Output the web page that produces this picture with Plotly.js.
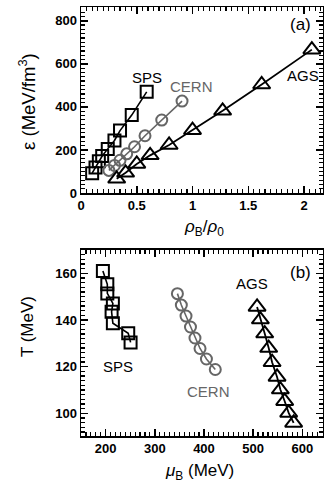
<!DOCTYPE html>
<html>
<head>
<meta charset="utf-8">
<script src="https://cdn.plot.ly/plotly-3.0.1.min.js"></script>
<style>html,body{margin:0;padding:0;background:#fff;}#chart{width:324px;height:489px;}</style>
</head>
<body>
<div id="chart"></div>
<script>
// Panel (a): energy density vs baryon density
const spsRho = [0.10, 0.13, 0.16, 0.19, 0.24, 0.30, 0.35, 0.455, 0.589];
const spsEps = [92, 118, 148, 172, 205, 244, 290, 362, 470];
const cernRho = [0.25, 0.30, 0.35, 0.41, 0.48, 0.574, 0.724, 0.906];
const cernEps = [105, 128, 152, 182, 215, 266, 339, 427];
const agsRho = [0.32, 0.40, 0.50, 0.62, 0.79, 1.0, 1.27, 1.62, 2.07];
const agsEps = [66, 94, 135, 175, 223, 292, 382, 504, 666];

// Panel (b): temperature vs baryon chemical potential
const spsMu = [194.5, 203.5, 203.5, 214.8, 212.2, 214.8, 246, 250.8];
const spsT = [161, 155.3, 151.4, 147.1, 143.5, 138.6, 134.3, 130.4];
const cernMu = [346, 354, 363.5, 372.6, 381.7, 392, 405, 423];
const cernT = [151.3, 146.4, 141.7, 137, 132.3, 127.8, 123.3, 118.8];
const agsMu = [508, 514.7, 523.5, 531.6, 538.5, 548.6, 555.3, 564.1, 572.2, 582.3];
const agsT = [145.6, 140.2, 134.2, 128, 121.9, 115.6, 110.2, 105.2, 100.2, 95.9];

const BLACK = '#000000';
const GRAY = '#666666';
const FONT = 'Liberation Sans, Arial, sans-serif';

function tr(x, y, xa, ya, sym, size, color, lw) {
  return {
    x: x, y: y, xaxis: xa, yaxis: ya, type: 'scatter', mode: 'lines+markers',
    line: {color: color, width: lw},
    marker: {symbol: sym, size: size, color: color, line: {color: color, width: 2}},
    showlegend: false, hoverinfo: 'skip'
  };
}

const data = [
  tr(spsRho, spsEps, 'x', 'y', 'square-open', 12, BLACK, 1.6),
  tr(cernRho, cernEps, 'x', 'y', 'circle-open', 11, GRAY, 1.6),
  tr(agsRho, agsEps, 'x', 'y', 'triangle-up-open', 15, BLACK, 1.8),
  tr(spsMu, spsT, 'x2', 'y2', 'square-open', 12, BLACK, 1.6),
  tr(cernMu, cernT, 'x2', 'y2', 'circle-open', 11, GRAY, 1.6),
  tr(agsMu, agsT, 'x2', 'y2', 'triangle-up-open', 15, BLACK, 1.8)
];

function ax(extra) {
  return Object.assign({
    showgrid: false, zeroline: false, showline: true, linecolor: BLACK, linewidth: 1.5,
    mirror: 'allticks', ticks: 'inside', ticklen: 7, tickwidth: 1.5, tickcolor: BLACK,
    tickmode: 'linear',
    tickfont: {family: FONT, size: 13, color: BLACK, weight: 'bold'},
    fixedrange: true
  }, extra);
}
function minor(d) {
  return {dtick: d, ticks: 'inside', ticklen: 4, tickcolor: BLACK, tickwidth: 1.2};
}

const layout = {
  width: 324, height: 489,
  margin: {l: 81, r: 1, t: 7, b: 53},
  paper_bgcolor: '#ffffff', plot_bgcolor: '#ffffff',
  font: {family: FONT, color: BLACK},
  xaxis: ax({domain: [0, 1], anchor: 'y', range: [0, 2.17], tick0: 0, dtick: 0.5, minor: minor(0.05)}),
  yaxis: ax({domain: [0.5664, 1], anchor: 'x', range: [0, 864], tick0: 0, dtick: 200, minor: minor(20)}),
  xaxis2: ax({domain: [0, 1], anchor: 'y2', range: [150, 642], tick0: 0, dtick: 100, minor: minor(10)}),
  yaxis2: ax({domain: [0, 0.4336], anchor: 'x2', range: [90.3, 170], tick0: 0, dtick: 20, minor: minor(2)}),
  annotations: [
    {text: 'ε (MeV/fm<sup>3</sup>)', xref: 'paper', yref: 'paper', x: -0.221, y: 0.78, textangle: -90,
      showarrow: false, font: {family: FONT, size: 18.5, color: BLACK}, xanchor: 'center', yanchor: 'middle'},
    {text: '<i>ρ</i><sub>B</sub>/<i>ρ</i><sub>0</sub>', xref: 'paper', yref: 'paper', x: 0.51, y: 0.485,
      showarrow: false, font: {family: FONT, size: 17, color: BLACK}, xanchor: 'center', yanchor: 'middle'},
    {text: 'T (MeV)', xref: 'paper', yref: 'paper', x: -0.221, y: 0.255, textangle: -90,
      showarrow: false, font: {family: FONT, size: 17, color: BLACK}, xanchor: 'center', yanchor: 'middle'},
    {text: '<i>μ</i><sub>B</sub> (MeV)', xref: 'paper', yref: 'paper', x: 0.49, y: -0.085,
      showarrow: false, font: {family: FONT, size: 17, color: BLACK}, xanchor: 'center', yanchor: 'middle'},
    {text: '(a)', xref: 'paper', yref: 'paper', x: 0.905, y: 0.959, showarrow: false,
      font: {family: FONT, size: 17, color: BLACK}, xanchor: 'center', yanchor: 'middle'},
    {text: 'SPS', xref: 'paper', yref: 'paper', x: 0.273, y: 0.835, showarrow: false,
      font: {family: FONT, size: 15, color: BLACK}, xanchor: 'center', yanchor: 'middle'},
    {text: 'CERN', xref: 'paper', yref: 'paper', x: 0.456, y: 0.814, showarrow: false,
      font: {family: FONT, size: 15, color: GRAY}, xanchor: 'center', yanchor: 'middle'},
    {text: 'AGS', xref: 'paper', yref: 'paper', x: 0.918, y: 0.840, showarrow: false,
      font: {family: FONT, size: 15, color: BLACK}, xanchor: 'center', yanchor: 'middle'},
    {text: '(b)', xref: 'paper', yref: 'paper', x: 0.905, y: 0.382, showarrow: false,
      font: {family: FONT, size: 17, color: BLACK}, xanchor: 'center', yanchor: 'middle'},
    {text: 'AGS', xref: 'paper', yref: 'paper', x: 0.705, y: 0.356, showarrow: false,
      font: {family: FONT, size: 15, color: BLACK}, xanchor: 'center', yanchor: 'middle'},
    {text: 'SPS', xref: 'paper', yref: 'paper', x: 0.154, y: 0.161, showarrow: false,
      font: {family: FONT, size: 15, color: BLACK}, xanchor: 'center', yanchor: 'middle'},
    {text: 'CERN', xref: 'paper', yref: 'paper', x: 0.525, y: 0.103, showarrow: false,
      font: {family: FONT, size: 15, color: GRAY}, xanchor: 'center', yanchor: 'middle'}
  ]
};

Plotly.newPlot('chart', data, layout, {staticPlot: true, displayModeBar: false});
</script>
</body>
</html>
